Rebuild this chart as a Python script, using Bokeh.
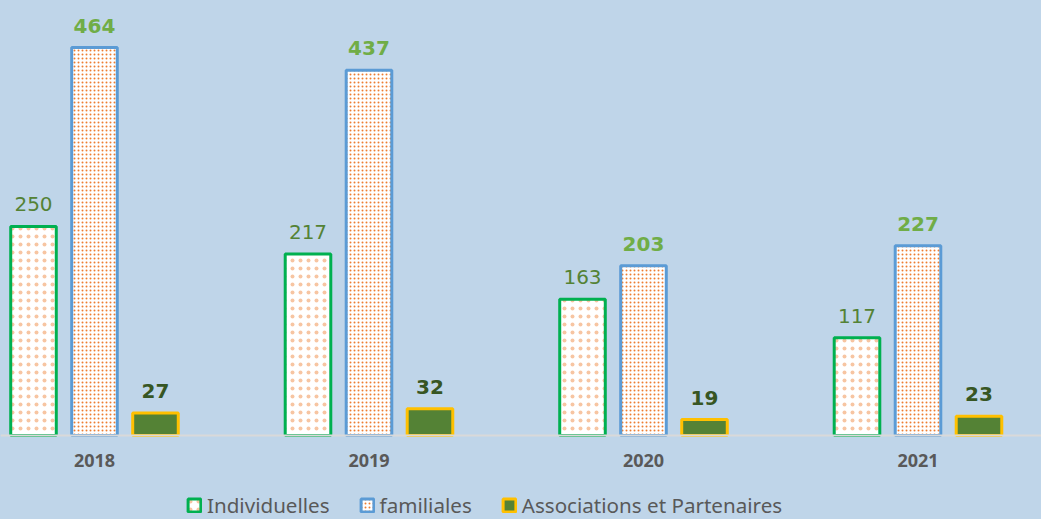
from bokeh.plotting import figure
from bokeh.models import ColumnDataSource, Range1d, FixedTicker, Legend, LegendItem, LabelSet
from bokeh.core.properties import value
from bokeh.transform import dodge
from bokeh.embed import file_html
from bokeh.resources import INLINE

years = ["2018", "2019", "2020", "2021"]
individuelles = [250, 217, 163, 117]
familiales = [464, 437, 203, 227]
associations = [27, 32, 19, 23]

BG = "#bfd5e9"
idx = list(range(len(years)))
src = ColumnDataSource(dict(x=idx, ind=individuelles, fam=familiales, ass=associations,
                            ind_t=[str(v) for v in individuelles],
                            fam_t=[str(v) for v in familiales],
                            ass_t=[str(v) for v in associations]))

p = figure(width=1041, height=519, output_backend="svg", toolbar_location=None,
           x_range=Range1d(-0.3424, 3.4499), y_range=Range1d(-100.5, 520.3),
           min_border=0, min_border_top=0, min_border_left=0, min_border_right=0,
           min_border_bottom=0)
p.background_fill_color = BG
p.border_fill_color = BG
p.outline_line_color = None
p.grid.visible = False
p.yaxis.visible = False

off = 0.2222
w = 0.166
r1 = p.vbar(x=dodge("x", -off, range=p.x_range), top="ind", width=w, source=src,
            fill_color="white", line_color="#00B050", line_width=3,
            hatch_pattern="dot", hatch_color="#F4B183", hatch_alpha=0.75,
            hatch_scale=8, hatch_weight=2)
r2 = p.vbar(x=dodge("x", 0, range=p.x_range), top="fam", width=w, source=src,
            fill_color="white", line_color="#5B9BD5", line_width=3,
            hatch_pattern="dot", hatch_color="#ED7D31", hatch_scale=4, hatch_weight=4.5)
r3 = p.vbar(x=dodge("x", off, range=p.x_range), top="ass", width=w, source=src,
            fill_color="#548235", line_color="#FFC000", line_width=3)

for col, t, dx, color, style in [("ind", "ind_t", -off, "#548235", "normal"),
                                 ("fam", "fam_t", 0, "#70AD47", "bold"),
                                 ("ass", "ass_t", off, "#375623", "bold")]:
    p.add_layout(LabelSet(x=dodge("x", dx, range=p.x_range), y=col, text=t, source=src,
                          text_align="center", text_baseline="alphabetic", y_offset=15,
                          text_font=value("DejaVu Sans"), text_font_size=value("20px"),
                          text_font_style=value(style), text_color=value(color)))

ax = p.xaxis[0]
ax.fixed_location = 0
ax.ticker = FixedTicker(ticks=idx)
ax.major_label_overrides = {i: y for i, y in zip(idx, years)}
ax.axis_line_color = "#d9d9d9"
ax.axis_line_width = 2
ax.major_tick_line_color = None
ax.minor_tick_line_color = None
ax.major_tick_out = 0
ax.major_tick_in = 0
ax.major_label_standoff = 19
ax.major_label_text_font = "Open Sans"
ax.major_label_text_font_style = "bold"
ax.major_label_text_font_size = "18px"
ax.major_label_text_color = "#595959"

legend = Legend(items=[LegendItem(label="Individuelles", renderers=[r1]),
                       LegendItem(label="familiales", renderers=[r2]),
                       LegendItem(label="Associations et Partenaires", renderers=[r3])],
                orientation="horizontal", location=(186, 0),
                background_fill_alpha=0, border_line_color=None,
                label_text_font="Noto Sans", label_text_font_size="20.6px",
                label_text_color="#595959", glyph_width=16, glyph_height=16,
                label_height=20, spacing=29, label_standoff=5, padding=0, margin=0)
p.add_layout(legend)

html = file_html(p, INLINE)
html = html.replace("<head>", "<head><style>body{background:%s;}</style>" % BG, 1)
open("out.html", "w").write(html)
